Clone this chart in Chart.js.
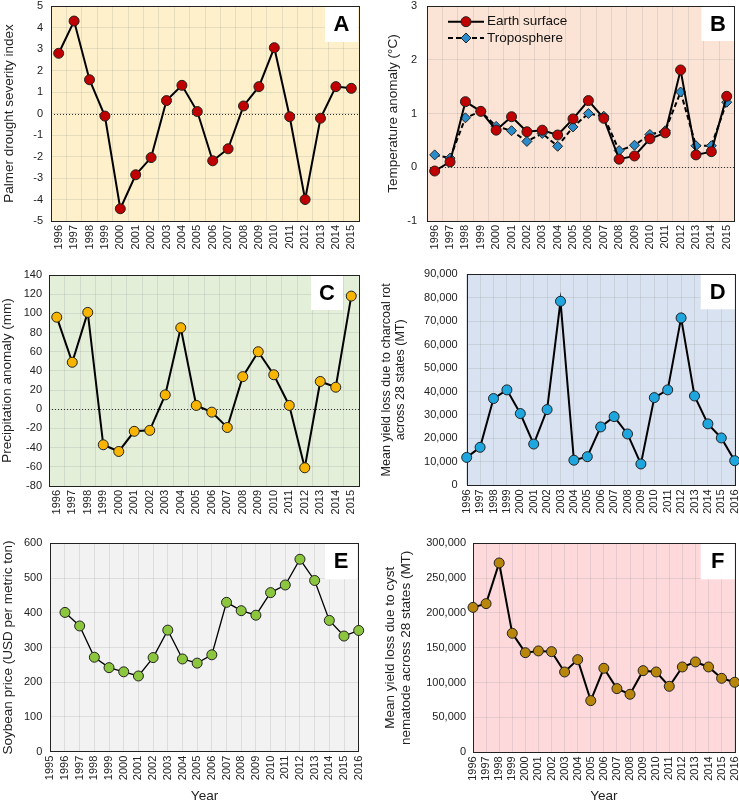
<!DOCTYPE html>
<html>
<head>
<meta charset="utf-8">
<script src="https://cdn.jsdelivr.net/npm/chart.js@4.4.0/dist/chart.umd.min.js"></script>
<style>
html, body { margin: 0; padding: 0; background: #fff; overflow: hidden; }
#wrap { position: relative; width: 739px; height: 804px; overflow: hidden; }
#wrap canvas { position: absolute; left: 0; top: 0; }
</style>
</head>
<body>
<div id="wrap">
  <canvas id="cA" width="780" height="804"></canvas>
  <canvas id="cB" width="780" height="804"></canvas>
  <canvas id="cC" width="780" height="804"></canvas>
  <canvas id="cD" width="780" height="804"></canvas>
  <canvas id="cE" width="780" height="804"></canvas>
  <canvas id="cF" width="780" height="804"></canvas>
</div>
<script>
// years on the x axes
var years96to15 = ['1996','1997','1998','1999','2000','2001','2002','2003','2004','2005','2006','2007','2008','2009','2010','2011','2012','2013','2014','2015']
var years96to16 = ['1996','1997','1998','1999','2000','2001','2002','2003','2004','2005','2006','2007','2008','2009','2010','2011','2012','2013','2014','2015','2016']
var years95to16 = ['1995','1996','1997','1998','1999','2000','2001','2002','2003','2004','2005','2006','2007','2008','2009','2010','2011','2012','2013','2014','2015','2016']

// A - Palmer drought severity index
var pdsi = [2.8, 4.3, 1.57, -0.12, -4.43, -2.85, -2.05, 0.6, 1.31, 0.09, -2.2, -1.64, 0.35, 1.25, 3.06, -0.15, -4.0, -0.22, 1.25, 1.17]
// B - temperature anomaly
var earthSurface = [-0.07, 0.1, 1.22, 1.04, 0.69, 0.94, 0.66, 0.69, 0.6, 0.9, 1.24, 0.91, 0.15, 0.21, 0.53, 0.64, 1.81, 0.23, 0.29, 1.32]
var troposphere = [0.23, 0.17, 0.92, 1.04, 0.76, 0.68, 0.48, 0.63, 0.39, 0.75, 1.0, 0.95, 0.31, 0.41, 0.61, 0.68, 1.4, 0.4, 0.4, 1.21]
// C - precipitation anomaly
var precip = [96, 49, 101, -37, -44, -23, -22, 15, 85, 4, -3, -19, 34, 60, 36, 4, -61, 29, 23, 118]
// D - charcoal rot loss
var charcoalRot = [11900, 16200, 37000, 40700, 30600, 17600, 32300, 78500, 10700, 12200, 24900, 29300, 21900, 9100, 37400, 40700, 71400, 38100, 26200, 20200, 10500]
// E - soybean price
var soyPrice = [null, 401, 362, 272, 242, 230, 218, 271, 350, 267, 255, 279, 430, 406, 393, 458, 480, 554, 493, 378, 333, 349]
// F - cyst nematode loss
var cystNematode = [208000, 213400, 271800, 170800, 143000, 145500, 144500, 115300, 133000, 74200, 120600, 91400, 83300, 117200, 115300, 94700, 122500, 129700, 122500, 106200, 100500]

var FONT = 'Liberation Sans, Arial, sans-serif'
var CW = 780, CH = 804
Chart.defaults.font.family = FONT

var framePlugin = {
  id: 'frame',
  beforeDraw: function(chart, args, o) {
    var a = chart.chartArea, ctx = chart.ctx
    ctx.save()
    ctx.fillStyle = o.bg
    ctx.fillRect(a.left, a.top, a.right - a.left, a.bottom - a.top)
    ctx.restore()
  },
  beforeDatasetsDraw: function(chart, args, o) {
    var a = chart.chartArea, ctx = chart.ctx
    ctx.save()
    if (o.zero) {
      var y0 = Math.round(chart.scales.y.getPixelForValue(0)) + 0.5
      ctx.strokeStyle = '#333'
      ctx.lineWidth = 1
      ctx.setLineDash([1, 2])
      ctx.beginPath(); ctx.moveTo(a.left, y0); ctx.lineTo(a.right, y0); ctx.stroke()
      ctx.setLineDash([])
    }
    // letter box
    var bx = a.right - o.box[0] - o.box[1]
    ctx.fillStyle = '#fff'
    ctx.fillRect(bx, a.top, o.box[1], o.box[2])
    ctx.fillStyle = '#000'
    ctx.font = 'bold 22px ' + FONT
    ctx.textAlign = 'center'
    ctx.textBaseline = 'middle'
    ctx.fillText(o.letter, bx + o.box[1] / 2, a.top + o.box[2] / 2 + 1)
    // frame
    ctx.strokeStyle = '#222'
    ctx.lineWidth = 1
    ctx.strokeRect(Math.round(a.left) + 0.5, Math.round(a.top) + 0.5, Math.round(a.right - a.left), Math.round(a.bottom - a.top))
    ctx.restore()
  },
  afterDatasetsDraw: function(chart, args, o) {
    if (!o.legend) return
    var a = chart.chartArea, ctx = chart.ctx
    ctx.save()
    chart.data.datasets.forEach(function(ds, i) {
      var y = a.top + o.legend.y[i]
      var x0 = a.left + o.legend.x[0], x1 = a.left + o.legend.x[1], xm = (x0 + x1) / 2
      ctx.strokeStyle = ds.borderColor
      ctx.lineWidth = ds.borderWidth
      ctx.setLineDash(ds.borderDash || [])
      ctx.beginPath(); ctx.moveTo(x0, y); ctx.lineTo(x1, y); ctx.stroke()
      ctx.setLineDash([])
      ctx.fillStyle = ds.pointBackgroundColor
      ctx.strokeStyle = ds.pointBorderColor
      ctx.lineWidth = 1
      var r = ds.pointRadius
      ctx.beginPath()
      if (ds.pointStyle === 'rectRot') {
        ctx.moveTo(xm, y - r); ctx.lineTo(xm + r, y); ctx.lineTo(xm, y + r); ctx.lineTo(xm - r, y); ctx.closePath()
      } else {
        ctx.arc(xm, y, r, 0, Math.PI * 2)
      }
      ctx.fill(); ctx.stroke()
      ctx.fillStyle = '#111'
      ctx.font = '13.5px ' + FONT
      ctx.textAlign = 'left'
      ctx.textBaseline = 'middle'
      ctx.fillText(ds.label, x1 + 3, y)
    })
    ctx.restore()
  }
}

function series(label, values, color, extra) {
  var d = {
    label: label, data: values,
    borderColor: '#000', borderWidth: 2, tension: 0,
    pointRadius: 5, pointBackgroundColor: color, pointBorderColor: '#222', pointBorderWidth: 1,
    pointStyle: 'circle', spanGaps: false
  }
  for (var k in extra) d[k] = extra[k]
  return d
}

function panel(id, p) {
  var gridColor = 'rgba(140,140,140,0.2)'
  new Chart(document.getElementById(id), {
    type: 'line',
    data: { labels: p.labels, datasets: p.datasets },
    options: {
      responsive: false,
      animation: false,
      events: [],
      layout: { padding: { left: p.area[0] - p.yw, top: p.area[1], right: CW - p.area[2], bottom: CH - p.area[3] - p.xh } },
      plugins: {
        legend: { display: false },
        tooltip: { enabled: false },
        frame: { bg: p.bg, letter: p.letter, box: p.box, zero: p.zero, legend: p.legend }
      },
      scales: {
        x: {
          offset: p.offset,
          grid: { offset: p.offset, color: gridColor, drawTicks: false },
          border: { display: false },
          ticks: { autoSkip: false, minRotation: 90, maxRotation: 90, padding: 4, color: '#222', font: { size: 11, lineHeight: 1 } },
          title: { display: !!p.xtitle, text: p.xtitle, color: '#222', padding: 0, font: { size: 13.5 } },
          afterFit: function(s) { s.height = p.xh }
        },
        y: {
          min: p.min, max: p.max,
          grid: { color: gridColor, drawTicks: true, tickLength: p.tickPad, tickColor: 'rgba(0,0,0,0)' },
          border: { display: false },
          ticks: { stepSize: p.step, padding: 0, color: '#222', font: { size: 11, lineHeight: 1 } },
          title: { display: true, text: p.ytitle, color: '#222', padding: 0, font: { size: p.titleSize || 13.5, lineHeight: 1.15 } },
          afterFit: function(s) { s.width = p.yw }
        }
      }
    },
    plugins: [framePlugin]
  })
}

panel('cA', {
  labels: years96to15, offset: true,
  datasets: [series('PDSI', pdsi, '#c00000')],
  area: [51, 5, 359, 221], yw: 49, xh: 40, min: -5, max: 5, step: 1, tickPad: 8,
  ytitle: 'Palmer drought severity index', bg: '#fdf0cb', letter: 'A', box: [1, 33, 36], zero: true
})

panel('cB', {
  labels: years96to15, offset: true,
  datasets: [
    series('Earth surface', earthSurface, '#c00000'),
    series('Troposphere', troposphere, '#2b8ccb', { borderDash: [5, 3], pointStyle: 'rectRot', pointRadius: 5 })
  ],
  area: [427, 5, 734.4, 221], yw: 41, xh: 40, min: -1, max: 3, step: 1, tickPad: 10,
  ytitle: 'Temperature anomaly (°C)', bg: '#fbe4d5', letter: 'B', box: [0, 33, 35], zero: true,
  legend: { x: [21, 57], y: [15.7, 32] }
})

panel('cC', {
  labels: years96to15, offset: true,
  datasets: [series('Precipitation', precip, '#f7b500')],
  area: [49, 275, 359, 486], yw: 49, xh: 40, min: -80, max: 140, step: 20, tickPad: 7,
  ytitle: 'Precipitation anomaly (mm)', bg: '#e4efd9', letter: 'C', box: [16, 32, 35], zero: true
})

panel('cD', {
  labels: years96to16, offset: false,
  datasets: [series('Charcoal rot', charcoalRot, '#1fa6df')],
  area: [466.7, 274.3, 734.7, 485.3], yw: 87.5, xh: 40, min: 0, max: 90000, step: 10000, tickPad: 9,
  ytitle: ['Mean yield loss due to charcoal rot', 'across 28 states (MT)'], titleSize: 12.5,
  bg: '#d8e2f1', letter: 'D', box: [0, 34, 35]
})

panel('cE', {
  labels: years95to16, offset: false,
  datasets: [series('Soybean price', soyPrice, '#8cc63e', { borderWidth: 1.3 })],
  area: [50.3, 543.3, 358.7, 751.7], yw: 50, xh: 52.3, min: 0, max: 600, step: 100, tickPad: 8,
  ytitle: 'Soybean price (USD per metric ton)', xtitle: 'Year', bg: '#f2f2f2', letter: 'E', box: [1.7, 32, 36]
})

panel('cF', {
  labels: years96to16, offset: false,
  datasets: [series('Cyst nematode', cystNematode, '#b8860b')],
  area: [473, 543.3, 734.7, 752.3], yw: 90, xh: 51.7, min: 0, max: 300000, step: 50000, tickPad: 7,
  ytitle: ['Mean yield loss due to cyst', 'nematode across 28 states (MT)'], xtitle: 'Year', bg: '#fdd9dc', letter: 'F', box: [0, 34, 36]
})
</script>
</body>
</html>
